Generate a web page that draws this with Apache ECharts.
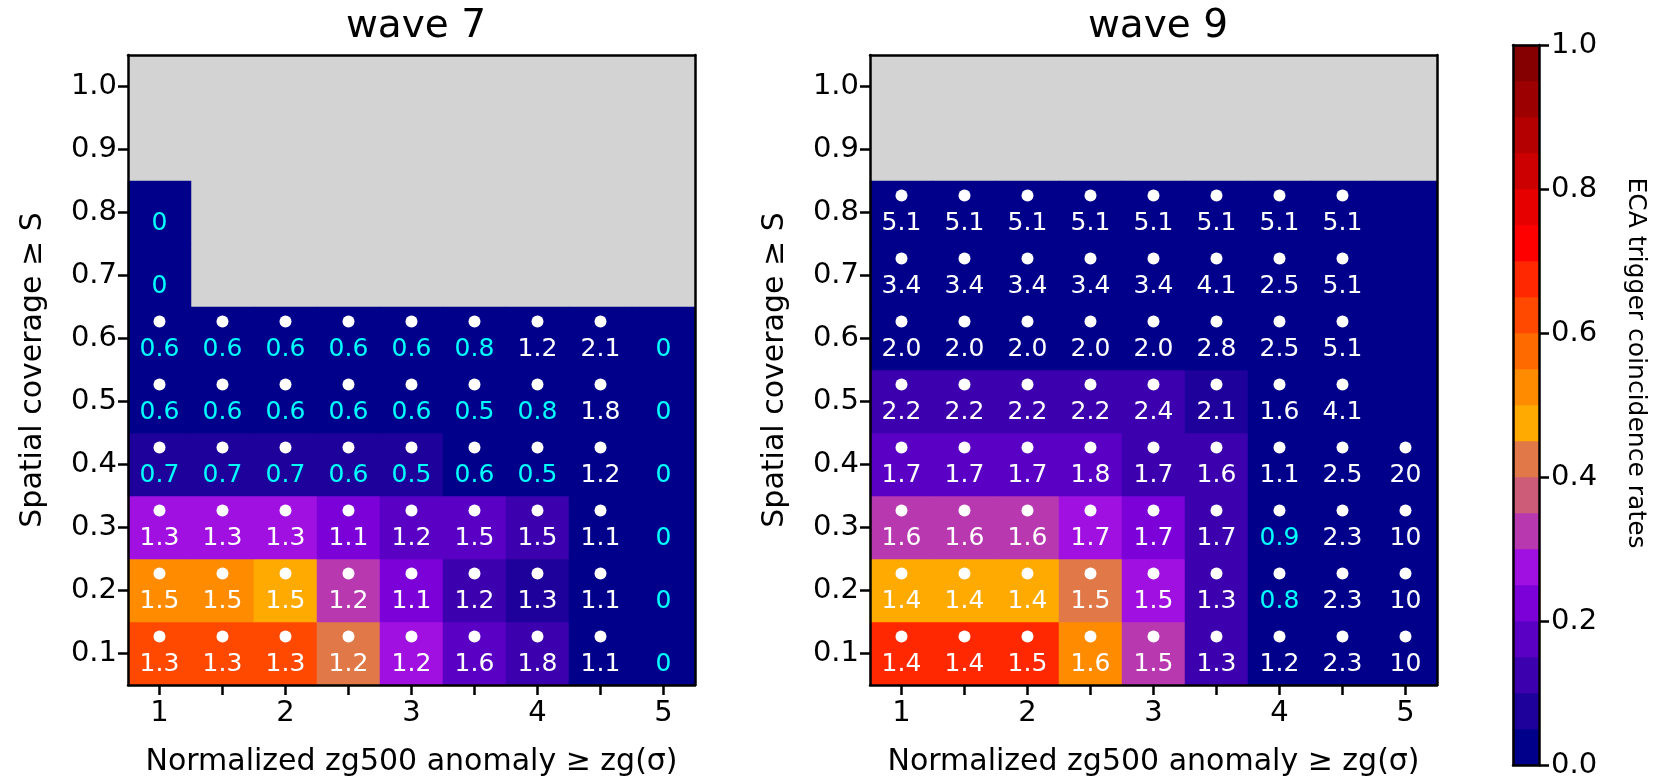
<!DOCTYPE html>
<html>
<head>
<meta charset="utf-8">
<script src="https://cdn.jsdelivr.net/npm/echarts@6/dist/echarts.min.js"></script>
<style>
  html, body { margin: 0; padding: 0; background: #fff; }
  #chart { width: 1665px; height: 782px; }
</style>
</head>
<body>
<div id="chart"></div>
<script>
// axes
const xCats = ['1', '1.5', '2', '2.5', '3', '3.5', '4', '4.5', '5'];
const yCats = ['0.1', '0.2', '0.3', '0.4', '0.5', '0.6', '0.7', '0.8', '0.9', '1.0'];

// colorbar: 20 bands of 0.05, bottom to top
const bandColors = ['#00008b', '#1e009a', '#3c00ae', '#5a00c4', '#7c00d8', '#a010e0', '#b838b0', '#cc5c78',
  '#e07848', '#ffaa00', '#ff8c00', '#ff6a00', '#ff4800', '#ff2800', '#ff0000', '#e60000',
  '#cc0000', '#b40000', '#9c0000', '#850000'];
const bandStep = 0.05;

// ECA trigger coincidence rate per cell (rows 0.1 -> 1.0), null = no data (grey)
const wave7Rate = [
  [0.625, 0.625, 0.625, 0.425, 0.275, 0.175, 0.125, 0.025, 0.025],
  [0.525, 0.525, 0.475, 0.325, 0.225, 0.125, 0.075, 0.025, 0.025],
  [0.275, 0.275, 0.275, 0.225, 0.175, 0.175, 0.125, 0.025, 0.025],
  [0.075, 0.075, 0.075, 0.075, 0.075, 0.025, 0.025, 0.025, 0.025],
  [0.025, 0.025, 0.025, 0.025, 0.025, 0.025, 0.025, 0.025, 0.025],
  [0.025, 0.025, 0.025, 0.025, 0.025, 0.025, 0.025, 0.025, 0.025],
  [0.025, null, null, null, null, null, null, null, null],
  [0.025, null, null, null, null, null, null, null, null],
  [null, null, null, null, null, null, null, null, null],
  [null, null, null, null, null, null, null, null, null]
];
const wave7Text = [
  ['1.3', '1.3', '1.3', '1.2', '1.2', '1.6', '1.8', '1.1', '0'],
  ['1.5', '1.5', '1.5', '1.2', '1.1', '1.2', '1.3', '1.1', '0'],
  ['1.3', '1.3', '1.3', '1.1', '1.2', '1.5', '1.5', '1.1', '0'],
  ['0.7', '0.7', '0.7', '0.6', '0.5', '0.6', '0.5', '1.2', '0'],
  ['0.6', '0.6', '0.6', '0.6', '0.6', '0.5', '0.8', '1.8', '0'],
  ['0.6', '0.6', '0.6', '0.6', '0.6', '0.8', '1.2', '2.1', '0'],
  ['0', null, null, null, null, null, null, null, null],
  ['0', null, null, null, null, null, null, null, null],
  [], []
];
const wave7Sig = [
  [1, 1, 1, 1, 1, 1, 1, 1, 0],
  [1, 1, 1, 1, 1, 1, 1, 1, 0],
  [1, 1, 1, 1, 1, 1, 1, 1, 0],
  [1, 1, 1, 1, 1, 1, 1, 1, 0],
  [1, 1, 1, 1, 1, 1, 1, 1, 0],
  [1, 1, 1, 1, 1, 1, 1, 1, 0],
  [0], [0], [], []
];

const wave9Rate = [
  [0.675, 0.675, 0.675, 0.525, 0.325, 0.125, 0.025, 0.025, 0.025],
  [0.475, 0.475, 0.475, 0.425, 0.275, 0.125, 0.025, 0.025, 0.025],
  [0.325, 0.325, 0.325, 0.275, 0.225, 0.125, 0.025, 0.025, 0.025],
  [0.175, 0.175, 0.175, 0.175, 0.125, 0.125, 0.025, 0.025, 0.025],
  [0.125, 0.125, 0.125, 0.125, 0.125, 0.075, 0.025, 0.025, 0.025],
  [0.025, 0.025, 0.025, 0.025, 0.025, 0.025, 0.025, 0.025, 0.025],
  [0.025, 0.025, 0.025, 0.025, 0.025, 0.025, 0.025, 0.025, 0.025],
  [0.025, 0.025, 0.025, 0.025, 0.025, 0.025, 0.025, 0.025, 0.025],
  [null, null, null, null, null, null, null, null, null],
  [null, null, null, null, null, null, null, null, null]
];
const wave9Text = [
  ['1.4', '1.4', '1.5', '1.6', '1.5', '1.3', '1.2', '2.3', '10'],
  ['1.4', '1.4', '1.4', '1.5', '1.5', '1.3', '0.8', '2.3', '10'],
  ['1.6', '1.6', '1.6', '1.7', '1.7', '1.7', '0.9', '2.3', '10'],
  ['1.7', '1.7', '1.7', '1.8', '1.7', '1.6', '1.1', '2.5', '20'],
  ['2.2', '2.2', '2.2', '2.2', '2.4', '2.1', '1.6', '4.1', null],
  ['2.0', '2.0', '2.0', '2.0', '2.0', '2.8', '2.5', '5.1', null],
  ['3.4', '3.4', '3.4', '3.4', '3.4', '4.1', '2.5', '5.1', null],
  ['5.1', '5.1', '5.1', '5.1', '5.1', '5.1', '5.1', '5.1', null],
  [], []
];
const wave9Sig = [
  [1, 1, 1, 1, 1, 1, 1, 1, 1],
  [1, 1, 1, 1, 1, 1, 1, 1, 1],
  [1, 1, 1, 1, 1, 1, 1, 1, 1],
  [1, 1, 1, 1, 1, 1, 1, 1, 1],
  [1, 1, 1, 1, 1, 1, 1, 1, 0],
  [1, 1, 1, 1, 1, 1, 1, 1, 0],
  [1, 1, 1, 1, 1, 1, 1, 1, 0],
  [1, 1, 1, 1, 1, 1, 1, 1, 0],
  [], []
];

const FONT = 'DejaVu Sans';
const lineStyle = { color: '#000', width: 2.5 };

const heatData = (rates) => {
  let out = [];
  rates.forEach((row, yi) => row.forEach((v, xi) => {
    if (v !== null) out.push([xi, yi, v]);
  }));
  return out;
};

const textData = (texts) => {
  let out = [];
  texts.forEach((row, yi) => row.forEach((t, xi) => {
    if (t === null || t === undefined) return;
    out.push({
      value: [xi, yi],
      text: t,
      label: { color: parseFloat(t) < 1 ? '#00ffff' : '#ffffff' }
    });
  }));
  return out;
};

const dotData = (sig) => {
  let out = [];
  sig.forEach((row, yi) => row.forEach((s, xi) => {
    if (s) out.push([xi, yi]);
  }));
  return out;
};

const pieces = bandColors.map((c, i) => ({ gte: i * bandStep, lt: (i + 1) * bandStep + (i === bandColors.length - 1 ? 1e-9 : 0), color: c }));
const bandNames = bandColors.map((c, i) => String(i));
const bandData = bandColors.map((c, i) => [0, i, (i + 0.5) * bandStep]);

const plotX = (grid) => [
  {
    gridIndex: grid, type: 'category', data: xCats, position: 'bottom', z: 10,
    axisLine: { show: true, lineStyle: lineStyle },
    axisTick: { show: true, interval: 0, alignWithLabel: true, length: 10, lineStyle: lineStyle },
    axisLabel: { interval: 1, fontSize: 29, color: '#000', margin: 14, fontFamily: FONT },
    splitLine: { show: false },
    name: 'Normalized zg500 anomaly \u2265 zg(\u03c3)', nameLocation: 'middle', nameGap: 62,
    nameTextStyle: { fontSize: 30, color: '#000', fontFamily: FONT }
  },
  {
    gridIndex: grid, type: 'category', data: xCats, position: 'top', z: 10,
    axisLine: { show: true, lineStyle: lineStyle },
    axisTick: { show: false }, axisLabel: { show: false }, splitLine: { show: false }
  }
];

const plotY = (grid) => [
  {
    gridIndex: grid, type: 'category', data: yCats, position: 'left', z: 10,
    axisLine: { show: true, lineStyle: lineStyle },
    axisTick: { show: true, interval: 0, alignWithLabel: true, length: 10, lineStyle: lineStyle },
    axisLabel: { interval: 0, fontSize: 29, color: '#000', margin: 11, fontFamily: FONT },
    splitLine: { show: false },
    name: 'Spatial coverage \u2265 S', nameLocation: 'middle', nameGap: 80, nameRotate: 90,
    nameTextStyle: { fontSize: 30, color: '#000', fontFamily: FONT }
  },
  {
    gridIndex: grid, type: 'category', data: yCats, position: 'right', z: 10,
    axisLine: { show: true, lineStyle: lineStyle },
    axisTick: { show: false }, axisLabel: { show: false }, splitLine: { show: false }
  }
];

const labelSeries = (xi, yi, texts) => ({
  type: 'scatter', xAxisIndex: xi, yAxisIndex: yi, z: 5,
  symbol: 'circle', symbolSize: 0, silent: true,
  itemStyle: { opacity: 1 },
  data: textData(texts),
  label: {
    show: true, position: 'inside', offset: [0, 11], opacity: 1,
    fontSize: 25, fontFamily: FONT,
    formatter: (p) => p.data.text
  }
});

const dotSeries = (xi, yi, sig) => ({
  type: 'scatter', xAxisIndex: xi, yAxisIndex: yi, z: 5,
  symbol: 'circle', symbolSize: 12, symbolOffset: [0, -17], silent: true,
  itemStyle: { color: '#ffffff', opacity: 1 },
  data: dotData(sig)
});

const chart = echarts.init(document.getElementById('chart'), null, { renderer: 'canvas' });

const titleStyle = { fontSize: 39, fontWeight: 'normal', color: '#000', fontFamily: FONT };

chart.setOption({
  animation: false,
  backgroundColor: '#ffffff',
  textStyle: { fontFamily: FONT },
  title: [
    { text: 'wave 7', left: 411, top: 2, textAlign: 'center', textStyle: titleStyle },
    { text: 'wave 9', left: 1153, top: 2, textAlign: 'center', textStyle: titleStyle }
  ],
  grid: [
    { left: 128, top: 55, width: 567, height: 630, show: true, backgroundColor: '#d3d3d3', borderWidth: 0 },
    { left: 870, top: 55, width: 567, height: 630, show: true, backgroundColor: '#d3d3d3', borderWidth: 0 },
    { left: 1513, top: 45, width: 26, height: 720 }
  ],
  xAxis: [
    ...plotX(0), ...plotX(1),
    { gridIndex: 2, type: 'category', data: [''], position: 'bottom', z: 10, axisLine: { show: true, lineStyle: lineStyle }, axisTick: { show: false }, axisLabel: { show: false } },
    { gridIndex: 2, type: 'category', data: [''], position: 'top', z: 10, axisLine: { show: true, lineStyle: lineStyle }, axisTick: { show: false }, axisLabel: { show: false } }
  ],
  yAxis: [
    ...plotY(0), ...plotY(1),
    { gridIndex: 2, type: 'category', data: bandNames, position: 'left', z: 10, axisLine: { show: true, lineStyle: lineStyle }, axisTick: { show: false }, axisLabel: { show: false }, splitLine: { show: false } },
    {
      gridIndex: 2, type: 'value', min: 0, max: 1, interval: 0.2, position: 'right', z: 10,
      axisLine: { show: true, lineStyle: lineStyle },
      axisTick: { show: true, length: 10, lineStyle: lineStyle },
      axisLabel: { fontSize: 29, color: '#000', margin: 12, fontFamily: FONT, formatter: (v) => v.toFixed(1) },
      splitLine: { show: false },
      name: 'ECA trigger coincidence rates', nameLocation: 'middle', nameGap: 84, nameRotate: -90,
      nameTextStyle: { fontSize: 25, color: '#000', fontFamily: FONT, padding: [0, 84, 0, 0] }
    }
  ],
  visualMap: {
    type: 'piecewise', show: false, seriesIndex: [0, 1, 2], dimension: 2,
    pieces: pieces
  },
  series: [
    { type: 'heatmap', xAxisIndex: 0, yAxisIndex: 0, data: heatData(wave7Rate), emphasis: { disabled: true } },
    { type: 'heatmap', xAxisIndex: 2, yAxisIndex: 2, data: heatData(wave9Rate), emphasis: { disabled: true } },
    { type: 'heatmap', xAxisIndex: 4, yAxisIndex: 4, data: bandData, emphasis: { disabled: true } },
    dotSeries(0, 0, wave7Sig),
    labelSeries(0, 0, wave7Text),
    dotSeries(2, 2, wave9Sig),
    labelSeries(2, 2, wave9Text)
  ]
});
</script>
</body>
</html>
